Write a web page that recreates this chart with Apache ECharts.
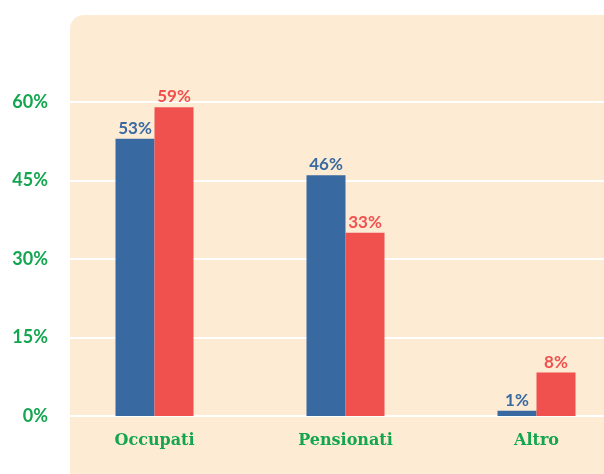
<!DOCTYPE html>
<html>
<head>
<meta charset="utf-8">
<script src="https://cdn.jsdelivr.net/npm/echarts@6/dist/echarts.min.js"></script>
<style>
  html, body { margin: 0; padding: 0; background: #ffffff; overflow: hidden; }
  /* 画布比窗口宽一点，右侧被裁掉 */
  #chart { width: 640px; height: 474px; }
</style>
</head>
<body>
<div id="chart"></div>
<script>
// 数据
const categories = ['Occupati', 'Pensionati', 'Altro']
const blueValues = [53, 46, 1]
const redValues = [59, 35, 8.3]
const blueLabels = ['53%', '46%', '1%']
const redLabels = ['59%', '33%', '8%']
const yTicks = [0, 15, 30, 45, 60]

// 颜色
const BLUE = '#3969a1'
const RED = '#f0514f'
const GREEN = '#14a64f'
const BEIGE = '#fdebd4'

const chart = echarts.init(document.getElementById('chart'))

chart.setOption({
  animation: false,
  backgroundColor: '#ffffff',
  graphic: [{
    type: 'rect',
    z: -10,
    silent: true,
    shape: { x: 70, y: 15, width: 600, height: 480, r: [14, 0, 0, 0] },
    style: { fill: BEIGE }
  }],
  grid: [
    // 网格线 + y轴标签
    { left: 70, right: 0, top: 102, bottom: 58 },
    // 柱子
    { left: 59, width: 573, top: 102, bottom: 58 }
  ],
  xAxis: [
    { gridIndex: 0, type: 'category', data: categories, show: false },
    {
      gridIndex: 1,
      type: 'category',
      data: categories,
      axisLine: { show: false },
      axisTick: { show: false },
      axisLabel: {
        margin: 17,
        color: GREEN,
        fontFamily: 'DejaVu Serif',
        fontWeight: 'bold',
        fontSize: 16
      }
    }
  ],
  yAxis: [
    {
      gridIndex: 0,
      type: 'value',
      min: yTicks[0],
      max: yTicks[yTicks.length - 1],
      interval: 15,
      axisLine: { show: false },
      axisTick: { show: false },
      axisLabel: {
        margin: 22,
        color: GREEN,
        fontFamily: 'Lato',
        fontWeight: 'bold',
        fontSize: 18,
        formatter: '{value}%'
      },
      splitLine: { lineStyle: { color: '#ffffff', width: 2 } }
    },
    {
      gridIndex: 1,
      type: 'value',
      min: yTicks[0],
      max: yTicks[yTicks.length - 1],
      show: false
    }
  ],
  series: [
    {
      type: 'bar',
      xAxisIndex: 1,
      yAxisIndex: 1,
      data: blueValues,
      barWidth: 39,
      barGap: '0%',
      itemStyle: { color: BLUE },
      label: {
        show: true,
        position: 'top',
        distance: 2,
        color: BLUE,
        fontFamily: 'Lato',
        fontWeight: 'bold',
        fontSize: 17,
        formatter: p => blueLabels[p.dataIndex]
      }
    },
    {
      type: 'bar',
      xAxisIndex: 1,
      yAxisIndex: 1,
      data: redValues,
      barWidth: 39,
      barGap: '0%',
      itemStyle: { color: RED },
      label: {
        show: true,
        position: 'top',
        distance: 2,
        color: RED,
        fontFamily: 'Lato',
        fontWeight: 'bold',
        fontSize: 17,
        formatter: p => redLabels[p.dataIndex]
      }
    }
  ]
})
</script>
</body>
</html>
